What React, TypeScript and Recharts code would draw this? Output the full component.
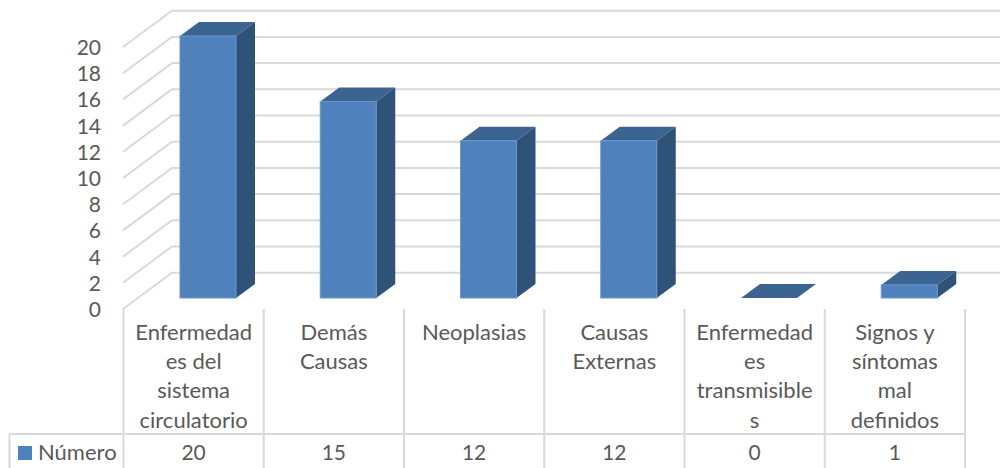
import { Bar, BarChart, CartesianGrid, XAxis, YAxis } from "recharts";

const categories = [
  "Enfermedades del sistema circulatorio",
  "Demás Causas",
  "Neoplasias",
  "Causas Externas",
  "Enfermedades transmisibles",
  "Signos y síntomas mal definidos",
];
const categoryLines = [
  ["Enfermedad", "es del", "sistema", "circulatorio"],
  ["Demás", "Causas"],
  ["Neoplasias"],
  ["Causas", "Externas"],
  ["Enfermedad", "es", "transmisible", "s"],
  ["Signos y", "síntomas", "mal", "definidos"],
];
const numero = [20, 15, 12, 12, 0, 1];
const yTicks = [0, 2, 4, 6, 8, 10, 12, 14, 16, 18, 20];
const seriesName = "Número";

const data = categories.map((category, i) => ({ category, numero: numero[i] }));

const FONT = "Lato, 'Open Sans', sans-serif";
const TEXT = "#595959";
const GRID = "#d9d9d9";
const FRONT = "#4f81bd";
const SIDE = "#2f5279";
const TOP = "#3c6491";

// depth of the fake 3D box
const DX = 19;
const DY = 14;
const BAR_SHIFT = 14.5;
const HALF_CELL = 70.15;
const AXIS_TOP = 309;
const ROW_TOP = 434;
const LINE_W = 2;

function WallLine(props: any) {
  const y = props.y1;
  return (
    <path
      d={`M123 ${y + 11} L172 ${y - 25.3} L1000 ${y - 25.3}`}
      fill="none"
      stroke={GRID}
      strokeWidth={LINE_W}
    />
  );
}

function YTick({ y, payload }: any) {
  return (
    <text x={101} y={y + 19} textAnchor="end" fontFamily={FONT} fontSize={21} fill={TEXT}>
      {payload.value}
    </text>
  );
}

function TableTick({ x, index }: any) {
  const left = x - HALF_CELL;
  const right = x + HALF_CELL;
  return (
    <g>
      <line x1={left} y1={AXIS_TOP} x2={left} y2={468} stroke={GRID} strokeWidth={LINE_W} />
      <line x1={left} y1={ROW_TOP} x2={right} y2={ROW_TOP} stroke={GRID} strokeWidth={LINE_W} />
      {index === categories.length - 1 && (
        <line x1={right} y1={AXIS_TOP} x2={right} y2={468} stroke={GRID} strokeWidth={LINE_W} />
      )}
      {index === 0 && (
        <g>
          <line x1={9.5} y1={ROW_TOP} x2={left} y2={ROW_TOP} stroke={GRID} strokeWidth={LINE_W} />
          <line x1={9.5} y1={ROW_TOP} x2={9.5} y2={468} stroke={GRID} strokeWidth={LINE_W} />
          <rect x={18} y={446} width={14} height={14} fill={FRONT} />
          <text x={38} y={460} fontFamily={FONT} fontSize={22} fill={TEXT}>
            {seriesName}
          </text>
        </g>
      )}
      {categoryLines[index].map((line, i) => (
        <text key={i} x={x} y={340 + i * 29.2} textAnchor="middle" fontFamily={FONT} fontSize={22} fill={TEXT}>
          {line}
        </text>
      ))}
      <text x={x} y={460} textAnchor="middle" fontFamily={FONT} fontSize={21} fill={TEXT}>
        {numero[index]}
      </text>
    </g>
  );
}

function Box3D({ x, y, width, height }: any) {
  const l = x + BAR_SHIFT;
  const r = l + width;
  const b = y + height;
  return (
    <g>
      <polygon points={`${l},${y} ${r},${y} ${r + DX},${y - DY} ${l + DX},${y - DY}`} fill={TOP} />
      <polygon points={`${r},${y} ${r + DX},${y - DY} ${r + DX},${b - DY} ${r},${b}`} fill={SIDE} />
      <rect x={l} y={y} width={width} height={height} fill={FRONT} stroke="#6a97cc" strokeWidth={height > 0 ? 1 : 0} />
    </g>
  );
}

export default function App() {
  return (
    <div style={{ position: "absolute", left: 0, top: 0, width: 1000, height: 468, background: "#fff" }}>
      <BarChart
        width={1000}
        height={468}
        data={data}
        margin={{ top: 36, right: 35, bottom: 0, left: 0 }}
        barSize={56}
      >
        <CartesianGrid vertical={false} horizontal={(p: any) => <WallLine key={p.index} {...p} />} />
        <XAxis
          dataKey="category"
          height={170}
          interval={0}
          axisLine={false}
          tickLine={false}
          tick={TableTick}
        />
        <YAxis
          width={123.5}
          domain={[0, 20]}
          ticks={yTicks}
          interval={0}
          axisLine={false}
          tickLine={false}
          tick={YTick}
        />
        <Bar dataKey="numero" isAnimationActive={false} shape={Box3D} />
      </BarChart>
    </div>
  );
}
